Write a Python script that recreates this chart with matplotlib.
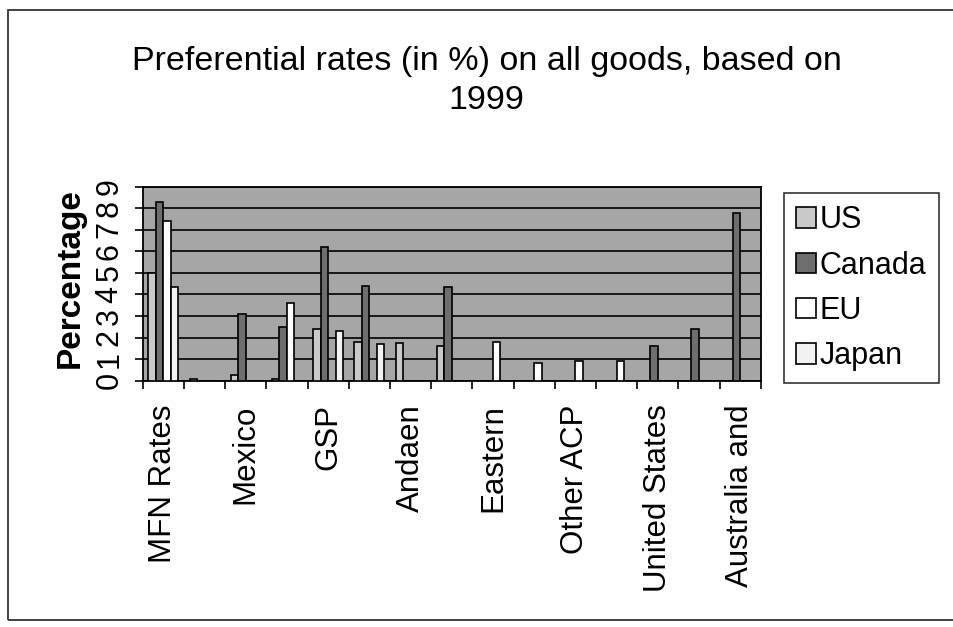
import numpy as np
import matplotlib
matplotlib.use("Agg")
import matplotlib.pyplot as plt
from matplotlib.patches import Rectangle

plt.rcParams['font.family'] = ['Liberation Sans', 'DejaVu Sans']

# categories (only every other one gets a label on the axis)
categories = ["MFN Rates", "", "Mexico", "", "GSP", "", "Andaen", "",
              "Eastern", "", "Other ACP", "", "United States", "", "Australia and"]

# preferential rates in %
US     = [4.98, 0.08, 0.26, 0.10, 2.38, 1.81, 1.73, 1.62, 0, 0, 0, 0, 0, 0, 0]
Canada = [8.30, 0, 3.10, 2.50, 6.22, 4.41, 0, 4.33, 0, 0, 0, 0, 1.60, 2.40, 7.80]
EU     = [7.42, 0, 0, 3.62, 0, 0, 0, 0, 1.81, 0.80, 0.93, 0.93, 0, 0, 0]
Japan  = [4.33, 0, 0, 0, 2.30, 1.70, 0, 0, 0, 0, 0, 0, 0, 0, 0]

series = [("US", US, '#c9c9c9'),
          ("Canada", Canada, '#6e6e6e'),
          ("EU", EU, '#ffffff'),
          ("Japan", Japan, '#f2f2f2')]

fig = plt.figure(figsize=(9.54, 6.27), dpi=100)
ax = fig.add_axes([0.1496, 0.3928, 0.6478, 0.3094])
ax.set_facecolor('#a6a6a6')

n = len(categories)
x = np.arange(n)
w = 1 / 5.5
for k, (name, vals, col) in enumerate(series):
    ax.bar(x + 0.5 + (k - 1.5) * w, vals, width=w, color=col,
           edgecolor='black', linewidth=1.2, label=name, zorder=3)

ax.set_xlim(0, n)
ax.set_ylim(0, 9)
ax.set_yticks(range(10))
ax.set_yticklabels([str(i) for i in range(10)], rotation=90, va='center', fontsize=22)
ax.yaxis.grid(True, color='black', linewidth=1.2, zorder=1)
ax.set_axisbelow(True)

# labels at category centres, tick marks on the boundaries
ax.set_xticks(x + 0.5)
ax.set_xticklabels(categories, rotation=90, fontsize=22.5)
ax.tick_params(axis='x', which='major', length=0, pad=17)
ax.set_xticks(np.arange(n + 1), minor=True)
ax.tick_params(axis='x', which='minor', length=6, width=1.2, direction='out')
ax.tick_params(axis='y', length=6, width=1.2, pad=7)
for s in ax.spines.values():
    s.set_linewidth(1.3)

fig.text(70 / 954, 1 - 278 / 627, "Percentage", rotation=90, ha='center',
         va='center', fontsize=24, fontweight='bold')

fig.text(0.51, 1 - 81 / 627, "Preferential rates (in %) on all goods, based on\n1999",
         ha='center', va='center', fontsize=24.5, linespacing=1.37)

leg = ax.legend(loc='upper left', bbox_to_anchor=(784 / 954, 1 - 193 / 627),
                bbox_transform=fig.transFigure, fontsize=22, frameon=True,
                fancybox=False, edgecolor='black', handlelength=0.65,
                handleheight=0.65, handletextpad=0.12, labelspacing=0.5,
                borderpad=0.4, borderaxespad=0)
leg.get_frame().set_linewidth(1.2)

# outer chart border
fig.patches.append(Rectangle((8 / 954, 7 / 627), 1.0, 1 - 17 / 627,
                             transform=fig.transFigure, fill=False,
                             edgecolor='#333333', linewidth=1.3))

fig.savefig("out.png", dpi=100)
